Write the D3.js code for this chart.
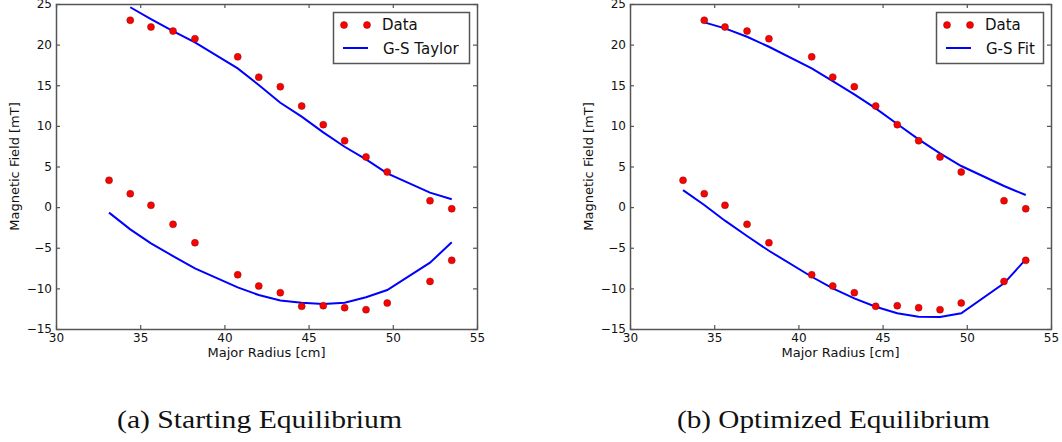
<!DOCTYPE html>
<html>
<head>
<meta charset="utf-8">
<script src="https://cdn.jsdelivr.net/npm/d3@7"></script>
<style>
  body { margin: 0; background: #fff; }
  svg { display: block; }
  .tick text { font-family: "DejaVu Sans", sans-serif; font-size: 12px; fill: #111; }
  .axis-label { font-family: "DejaVu Sans", sans-serif; font-size: 13px; fill: #111; }
  .legend text { font-family: "DejaVu Sans", sans-serif; font-size: 15px; fill: #111; }
  .caption { font-family: "Liberation Serif", serif; font-size: 25px; fill: #111; }
</style>
</head>
<body>
<div id="chart"></div>
<script>
// Measured positions (cm) shared by both panels
const radius = [33.15, 34.41, 35.64, 36.95, 38.25, 40.79, 42.04, 43.32, 44.59, 45.87, 47.14, 48.41, 49.67, 52.21, 53.5];
const radiusUpper = radius.slice(1);

// Measured field (mT)
const dataUpper = [23.0, 22.17, 21.67, 20.73, 18.5, 16.0, 14.82, 12.44, 10.15, 8.17, 6.17, 4.32, 0.79, -0.2];
const dataLower = [3.3, 1.65, 0.22, -2.12, -4.38, -8.32, -9.71, -10.53, -12.21, -12.13, -12.38, -12.62, -11.8, -9.14, -6.55];

// Model curves
const taylorUpper = [24.6, 23.15, 21.67, 20.28, 17.08, 15.03, 12.85, 11.13, 9.2, 7.43, 5.88, 4.16, 1.78, 0.96];
const taylorLower = [-0.68, -2.74, -4.46, -6.02, -7.54, -9.88, -10.82, -11.5, -11.76, -11.93, -11.76, -11.1, -10.2, -6.84, -4.33];
const fitUpper = [22.74, 22.0, 20.97, 19.74, 17.08, 15.52, 13.88, 12.16, 10.23, 8.34, 6.62, 5.06, 2.6, 1.49];
const fitLower = [2.1, 0.26, -1.67, -3.56, -5.37, -8.57, -10.0, -11.23, -12.26, -13.07, -13.49, -13.53, -13.07, -9.38, -6.43];

const xTicks = [30, 35, 40, 45, 50, 55];
const yTicks = [-15, -10, -5, 0, 5, 10, 15, 20, 25];

const panels = [
    { left: 56, model: [taylorUpper, taylorLower], name: 'G-S Taylor', caption: '(a) Starting Equilibrium', legendW: 136 },
    { left: 630, model: [fitUpper, fitLower], name: 'G-S Fit', caption: '(b) Optimized Equilibrium', legendW: 107 }
];

const width = 1062, height = 442;
const plotW = 421, plotH = 325, plotTop = 4;
const frameColor = '#555';

const svg = d3.select('#chart').append('svg')
    .attr('width', width)
    .attr('height', height);

panels.forEach(function(p) {
    const g = svg.append('g').attr('transform', `translate(${p.left},${plotTop})`);

    const x = d3.scaleLinear().domain([30, 55]).range([0, plotW]);
    const y = d3.scaleLinear().domain([-15, 25]).range([plotH, 0]);

    // axes, ticks pointing inward on all four sides
    g.append('g').attr('class', 'axis')
        .attr('transform', `translate(0,${plotH})`)
        .call(d3.axisBottom(x).tickValues(xTicks).tickSize(-4).tickPadding(4).tickFormat(d3.format('d')));
    g.append('g').attr('class', 'axis')
        .call(d3.axisTop(x).tickValues(xTicks).tickSize(-4).tickFormat(''));
    g.append('g').attr('class', 'axis')
        .call(d3.axisLeft(y).tickValues(yTicks).tickSize(-4).tickPadding(4).tickFormat(d3.format('d')));
    g.append('g').attr('class', 'axis')
        .attr('transform', `translate(${plotW},0)`)
        .call(d3.axisRight(y).tickValues(yTicks).tickSize(-4).tickFormat(''));
    g.selectAll('.axis .domain').remove();
    g.selectAll('.axis line').attr('stroke', frameColor).attr('stroke-width', 1.2);

    g.append('rect')
        .attr('x', 0.5).attr('y', 0.5)
        .attr('width', plotW).attr('height', plotH)
        .attr('fill', 'none')
        .attr('stroke', frameColor)
        .attr('stroke-width', 1.5);

    // model lines
    const line = d3.line().x(d => x(d[0])).y(d => y(d[1]));
    const upper = d3.zip(radiusUpper, p.model[0]);
    const lower = d3.zip(radius, p.model[1]);
    [upper, lower].forEach(function(seg) {
        g.append('path')
            .datum(seg)
            .attr('d', line)
            .attr('fill', 'none')
            .attr('stroke', '#0000ff')
            .attr('stroke-width', 2);
    });

    // data points
    const pts = d3.zip(radiusUpper, dataUpper).concat(d3.zip(radius, dataLower));
    g.selectAll('.pt')
        .data(pts)
        .enter()
        .append('circle')
        .attr('class', 'pt')
        .attr('cx', d => x(d[0]))
        .attr('cy', d => y(d[1]))
        .attr('r', 3.5)
        .attr('fill', '#ff0000')
        .attr('stroke', '#7a1010')
        .attr('stroke-width', 0.5);

    // axis labels
    g.append('text')
        .attr('class', 'axis-label')
        .attr('x', plotW / 2)
        .attr('y', 353)
        .attr('text-anchor', 'middle')
        .text('Major Radius [cm]');
    g.append('text')
        .attr('class', 'axis-label')
        .attr('transform', `translate(-37,${plotH / 2}) rotate(-90)`)
        .attr('text-anchor', 'middle')
        .text('Magnetic Field [mT]');

    // legend
    const lg = g.append('g').attr('class', 'legend')
        .attr('transform', `translate(${plotW - 8 - p.legendW},8)`);
    lg.append('rect')
        .attr('x', 0.5).attr('y', 0.5)
        .attr('width', p.legendW).attr('height', 51)
        .attr('fill', '#fff')
        .attr('stroke', frameColor)
        .attr('stroke-width', 1.5);
    [11, 34].forEach(function(cx) {
        lg.append('circle')
            .attr('cx', cx).attr('cy', 13)
            .attr('r', 3.5)
            .attr('fill', '#ff0000')
            .attr('stroke', '#7a1010')
            .attr('stroke-width', 0.5);
    });
    lg.append('line')
        .attr('x1', 10).attr('x2', 35)
        .attr('y1', 36).attr('y2', 36)
        .attr('stroke', '#0000ff')
        .attr('stroke-width', 2);
    lg.append('text').attr('x', 49).attr('y', 18).text('Data');
    lg.append('text').attr('x', 50).attr('y', 42).text(p.name);

    // caption
    svg.append('text')
        .attr('class', 'caption')
        .attr('x', p.left + plotW / 2 - 7)
        .attr('y', 428)
        .attr('text-anchor', 'middle')
        .attr('textLength', p.caption.length > 24 ? 313 : 285)
        .attr('lengthAdjust', 'spacingAndGlyphs')
        .text(p.caption);
});
</script>
</body>
</html>
